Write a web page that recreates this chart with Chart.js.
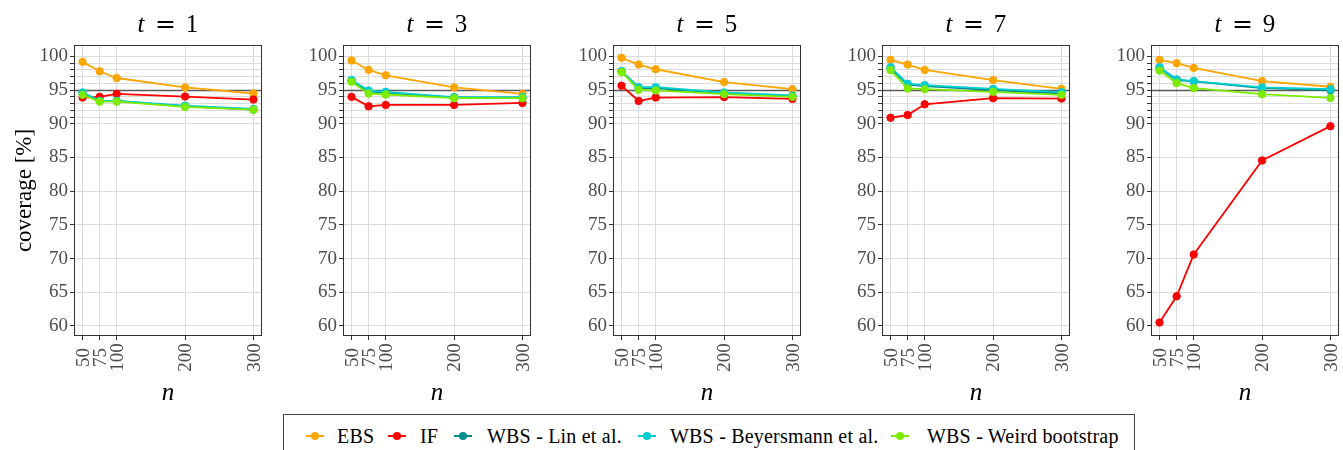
<!DOCTYPE html>
<html><head><meta charset="utf-8">
<script src="https://cdn.jsdelivr.net/npm/chart.js@4"></script>
<style>
html,body{margin:0;padding:0;background:#fff}
body{width:1343px;height:450px;overflow:hidden;position:relative;font-family:"Liberation Serif","Times New Roman",serif}
canvas.panel{position:absolute;top:0}
#legend{position:absolute;left:283px;top:414px;width:852px;height:60px;border:1px solid #444;box-sizing:border-box}
.lg-line{position:absolute;height:2px}
.lg-dot{position:absolute;width:8px;height:8px;border-radius:50%}
.lg-text{position:absolute;font-family:"Liberation Serif","Times New Roman",serif;font-size:20px;line-height:20px;color:#000;white-space:nowrap;letter-spacing:0.2px}
</style>
</head><body>
<div id="wrap"></div>
<div id="legend"></div>
<script>
// ---- data ----
const sampleSizes = [50, 75, 100, 200, 300];
const timePoints = [1, 3, 5, 7, 9];
const seriesNames = ['EBS', 'IF', 'WBS - Lin et al.', 'WBS - Beyersmann et al.', 'WBS - Weird bootstrap'];
const seriesColors = ['#FFA500', '#FF0000', '#008B8B', '#00CED1', '#7CEB00'];
// coverage [%], one row per time point t = 1,3,5,7,9 ; columns n = 50,75,100,200,300
const ebs = [
  [99.2, 97.8, 96.8, 95.4, 94.5],
  [99.4, 98.0, 97.2, 95.4, 94.45],
  [99.8, 98.8, 98.1, 96.2, 95.15],
  [99.5, 98.8, 98.0, 96.5, 95.2],
  [99.5, 99.0, 98.3, 96.35, 95.5]
];
const inf = [
  [93.9, 94.0, 94.45, 94.05, 93.6],
  [94.0, 92.6, 92.8, 92.8, 93.1],
  [95.65, 93.4, 93.9, 93.97, 93.7],
  [90.9, 91.3, 92.9, 93.8, 93.75],
  [60.5, 64.4, 70.6, 84.55, 89.65]
];
const wbsLin = [
  [94.6, 93.4, 93.4, 92.6, 92.1],
  [96.4, 94.8, 94.6, 93.9, 93.9],
  [97.8, 95.3, 95.3, 94.55, 94.1],
  [98.2, 95.8, 95.6, 95.0, 94.5],
  [98.3, 96.5, 96.3, 95.3, 95.0]
];
const wbsBeyersmann = [
  [94.65, 93.4, 93.4, 92.7, 92.2],
  [96.5, 94.95, 94.75, 93.97, 93.97],
  [97.8, 95.45, 95.45, 94.65, 94.2],
  [98.4, 95.95, 95.75, 95.2, 94.7],
  [98.4, 96.6, 96.35, 95.4, 95.15]
];
const wbsWeird = [
  [94.3, 93.3, 93.3, 92.5, 92.1],
  [96.25, 94.5, 94.35, 93.8, 93.8],
  [97.7, 95.05, 94.95, 94.4, 94.0],
  [97.97, 95.25, 95.15, 94.75, 94.3],
  [97.9, 96.05, 95.3, 94.4, 93.85]
];
const nominalLevel = 95;
const yMajorTicks = [60, 65, 70, 75, 80, 85, 90, 95, 100];
const yMinorTicks = [91, 92, 93, 94, 96, 97, 98, 99];
const xTickLabels = ['50', '75', '100', '200', '300'];
const yAxisTitle = 'coverage [%]';
const xAxisTitle = 'n';

// ---- layout ----
const allSeries = [ebs, inf, wbsLin, wbsBeyersmann, wbsWeird];
const plotLefts = [74, 343, 613, 882, 1151];
const plotW = 191, plotTop = 45, plotBottom = 336, canvasH = 412;
const SERIF = '"Liberation Serif", "Times New Roman", serif';

const decoPlugin = {
  id: 'deco',
  beforeDatasetsDraw(chart) {
    const {ctx, chartArea: a, scales: {y}} = chart;
    const py = Math.round(y.getPixelForValue(nominalLevel)) + 0.5;
    ctx.save();
    ctx.strokeStyle = '#5a5a5a';
    ctx.lineWidth = 1.6;
    ctx.beginPath(); ctx.moveTo(a.left, py); ctx.lineTo(a.right, py); ctx.stroke();
    ctx.restore();
  },
  afterDraw(chart, args, opts) {
    const {ctx, chartArea: a, scales: {x}} = chart;
    ctx.save();
    // frame
    ctx.strokeStyle = '#333'; ctx.lineWidth = 1;
    ctx.strokeRect(a.left + 0.5, a.top + 0.5, a.right - a.left - 1, a.bottom - a.top - 1);
    // rotated x tick labels (centered)
    ctx.fillStyle = '#4d4d4d';
    ctx.font = '19px ' + SERIF;
    ctx.textAlign = 'center'; ctx.textBaseline = 'alphabetic';
    sampleSizes.forEach((n, i) => {
      const px = x.getPixelForValue(n);
      ctx.save(); ctx.translate(px, 357.5); ctx.rotate(-Math.PI / 2);
      ctx.fillText(xTickLabels[i], 0, 6.3);
      ctx.restore();
    });
    const cx = (a.left + a.right) / 2;
    // panel title  t = k
    ctx.fillStyle = '#000';
    ctx.textAlign = 'center';
    ctx.font = 'italic 25px ' + SERIF;
    ctx.fillText('t', cx - 27, 32);
    ctx.font = '25px "DejaVu Serif", serif';
    ctx.fillText('=', cx - 2.5, 32);
    ctx.font = '25px ' + SERIF;
    ctx.fillText(String(opts.t), cx + 24, 32);
    // x axis title
    ctx.font = 'italic 25px ' + SERIF;
    ctx.fillText(xAxisTitle, cx, 400);
    // y axis title
    if (opts.showYTitle) {
      ctx.font = '23px ' + SERIF;
      ctx.save(); ctx.translate(31, (a.top + a.bottom) / 2); ctx.rotate(-Math.PI / 2);
      ctx.fillText(yAxisTitle, 0, 0);
      ctx.restore();
    }
    ctx.restore();
  }
};

timePoints.forEach((t, p) => {
  const yAxisW = p === 0 ? 74 : 70;
  const cv = document.createElement('canvas');
  cv.className = 'panel';
  const left = plotLefts[p] - yAxisW;
  const cw = yAxisW + plotW + 2;
  cv.width = cw; cv.height = canvasH;
  cv.style.left = left + 'px';
  cv.style.width = cw + 'px'; cv.style.height = canvasH + 'px';
  document.getElementById('wrap').appendChild(cv);

  const datasets = seriesNames.map((name, s) => ({
    label: name,
    data: sampleSizes.map((n, i) => ({x: n, y: allSeries[s][p][i]})),
    borderColor: seriesColors[s],
    backgroundColor: seriesColors[s],
    pointBackgroundColor: seriesColors[s],
    pointBorderColor: seriesColors[s],
    borderWidth: 1.8,
    pointRadius: 3.7,
    pointBorderWidth: 1,
    tension: 0,
    order: seriesNames.length - s
  }));

  new Chart(cv, {
    type: 'line',
    data: {datasets},
    plugins: [decoPlugin],
    options: {
      responsive: false, animation: false, devicePixelRatio: 1,
      layout: {padding: {top: plotTop, right: 2, left: 0, bottom: 0}},
      plugins: {legend: {display: false}, title: {display: false}, tooltip: {enabled: false},
        deco: {t: t, showYTitle: p === 0}},
      scales: {
        x: {
          type: 'linear', min: 37.5, max: 312.5,
          afterBuildTicks: (s) => { s.ticks = sampleSizes.map(v => ({value: v})); },
          afterFit: (s) => { s.height = canvasH - plotBottom; },
          ticks: {display: false},
          grid: {color: '#dcdcdc', lineWidth: 1, tickColor: '#333', tickLength: 4, drawTicks: true},
          border: {display: false}
        },
        y: {
          type: 'linear', min: 58.5, max: 101.7,
          afterBuildTicks: (s) => { s.ticks = yMajorTicks.concat(yMinorTicks).sort((a, b) => a - b).map(v => ({value: v})); },
          afterFit: (s) => { s.width = yAxisW; },
          ticks: {
            autoSkip: false, padding: 2, color: '#4d4d4d',
            font: {family: SERIF, size: 19},
            callback: (v) => yMajorTicks.includes(v) ? String(v) : ''
          },
          grid: {color: '#dcdcdc', lineWidth: 1, tickColor: '#333', tickLength: 4},
          border: {display: false}
        }
      }
    }
  });
});

// ---- legend (HTML) ----
const legendMarkerX = [315, 397, 463, 647, 900];
const legendTextX = [337, 420, 487, 670, 927];
const lg = document.getElementById('legend');
const lgLeft = 283, lgTop = 414;
seriesNames.forEach((name, s) => {
  const cx = legendMarkerX[s] - lgLeft - 1, cy = 436 - lgTop - 1;
  const line = document.createElement('div');
  line.className = 'lg-line';
  line.style.cssText = `left:${cx - 9}px;top:${cy - 1}px;width:18px;background:${seriesColors[s]}`;
  const dot = document.createElement('div');
  dot.className = 'lg-dot';
  dot.style.cssText = `left:${cx - 4}px;top:${cy - 4}px;background:${seriesColors[s]}`;
  const tx = document.createElement('div');
  tx.className = 'lg-text';
  tx.textContent = name;
  tx.style.left = (legendTextX[s] - lgLeft - 1) + 'px';
  tx.style.top = (426 - lgTop - 1) + 'px';
  lg.appendChild(line); lg.appendChild(dot); lg.appendChild(tx);
});
</script>
</body></html>
